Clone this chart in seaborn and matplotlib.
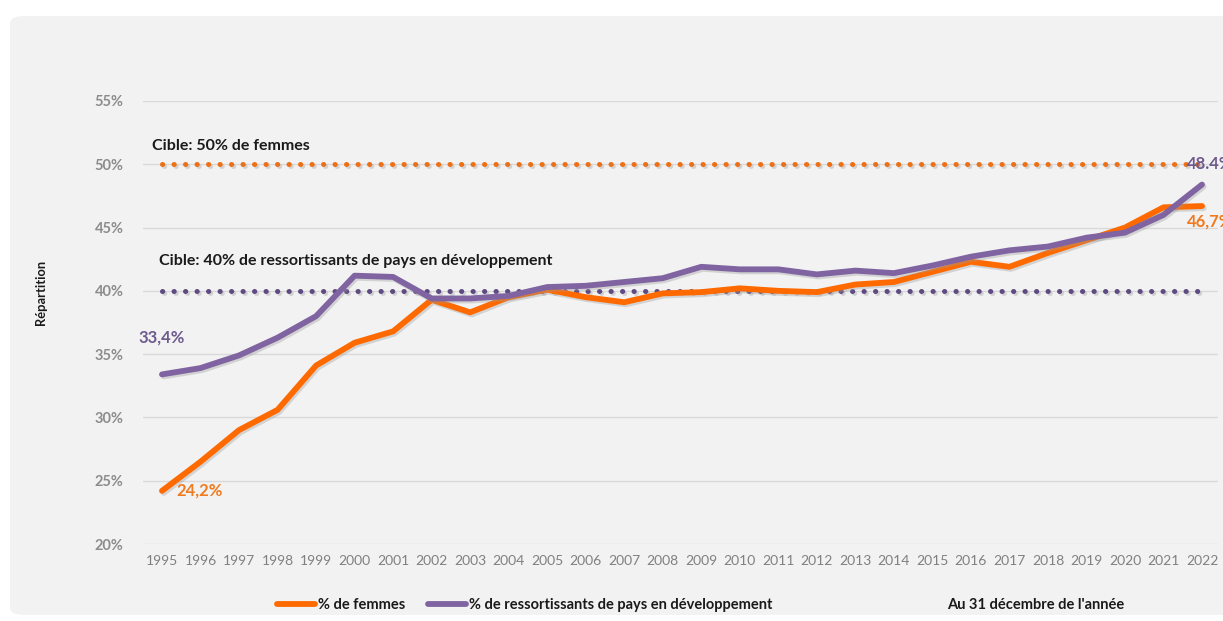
import matplotlib
matplotlib.use("Agg")
import matplotlib.pyplot as plt
import matplotlib.patheffects as pe
from matplotlib.patches import FancyBboxPatch
from matplotlib.lines import Line2D
import seaborn as sns
import pandas as pd

years = list(range(1995, 2023))
femmes = [24.2, 26.5, 29.0, 30.6, 34.1, 35.9, 36.8, 39.3, 38.3, 39.5, 40.1, 39.5, 39.1, 39.8,
          39.9, 40.2, 40.0, 39.9, 40.5, 40.7, 41.5, 42.3, 41.9, 43.0, 44.0, 45.0, 46.6, 46.7]
pays = [33.4, 33.9, 34.9, 36.3, 38.0, 41.2, 41.1, 39.4, 39.4, 39.6, 40.3, 40.4, 40.7, 41.0,
        41.9, 41.7, 41.7, 41.3, 41.6, 41.4, 42.0, 42.7, 43.2, 43.5, 44.2, 44.6, 46.0, 48.4]
series_names = ["% de femmes", "% de ressortissants de pays en développement"]
target_femmes = 50
target_pays = 40
yticks = [20, 25, 30, 35, 40, 45, 50, 55]

ORANGE = "#FF6A00"
PURPLE = "#8064A2"
ORANGE_DOT = "#ED7016"
PURPLE_DOT = "#5F4A82"

df = pd.DataFrame({
    "year": years * 2,
    "value": femmes + pays,
    "series": [series_names[0]] * len(years) + [series_names[1]] * len(years),
})

sns.set_theme(style="white")
plt.rcParams["font.family"] = ["Lato", "DejaVu Sans"]

W, H = 1223, 621
fig = plt.figure(figsize=(W / 100, H / 100), dpi=100)
fig.patch.set_facecolor("white")
bg = FancyBboxPatch((10 / W, 6 / H), (W + 20) / W, (H - 16) / H - 6 / H,
                    boxstyle="round,pad=0,rounding_size=0.012", transform=fig.transFigure,
                    facecolor="#F2F2F2", edgecolor="none", zorder=-10)
fig.patches.append(bg)

ax = fig.add_axes([143 / W, 1 - 544 / H, (1218 - 143) / W, (544 - 101) / H])
ax.set_facecolor("none")

shadow = [pe.SimpleLineShadow(offset=(1.2, -1.5), shadow_color="#999999", alpha=0.35), pe.Normal()]

# target lines
ax.plot([years[0], years[-1]], [target_femmes] * 2, color=ORANGE_DOT, lw=3.6,
        linestyle=(0, (0.05, 2.25)), dash_capstyle="round", path_effects=shadow, zorder=3)
ax.plot([years[0], years[-1]], [target_pays] * 2, color=PURPLE_DOT, lw=3.6,
        linestyle=(0, (0.05, 2.25)), dash_capstyle="round", path_effects=shadow, zorder=3)

sns.lineplot(data=df, x="year", y="value", hue="series", palette=[ORANGE, PURPLE],
             linewidth=4.2, ax=ax, legend=False, zorder=4)
for ln in ax.get_lines()[2:]:
    ln.set_solid_capstyle("round")
    ln.set_path_effects(shadow)

ax.set_xlim(1994.507, 2022.415)
ax.set_ylim(20, 55)
ax.set_yticks(yticks)
ax.set_yticklabels([f"{v}%" for v in yticks], color="#8C8C8C", fontweight="bold", fontsize=10.5)
ax.set_xticks(years)
ax.set_xticklabels([str(y) for y in years], color="#808080", fontsize=10)
ax.tick_params(axis="both", length=0)
ax.tick_params(axis="x", pad=8)
ax.tick_params(axis="y", pad=14)
ax.grid(axis="y", color="#D9D9D9", linewidth=1.0)
ax.set_axisbelow(True)
for s in ax.spines.values():
    s.set_visible(False)
ax.set_xlabel("")
ax.set_ylabel("")

# annotations
ax.text(1994.75, 50.9, "Cible: 50% de femmes", fontsize=11.5, fontweight="bold", color="#1A1A1A", va="bottom")
ax.text(1994.91, 41.8, "Cible: 40% de ressortissants de pays en développement", fontsize=11.5,
        fontweight="bold", color="#1A1A1A", va="bottom")
ax.text(1995.38, femmes[0], "24,2%", fontsize=12, fontweight="bold", color="#F07A1E", va="center")
ax.text(1994.4, pays[0] + 2.9, "33,4%", fontsize=12, fontweight="bold", color="#6E5A8E", va="center")
ax.text(2021.6, 50.0, "48.4%", fontsize=12, fontweight="bold", color="#6E5A8E", va="center", clip_on=False)
ax.text(2021.6, 45.5, "46,7%", fontsize=12, fontweight="bold", color="#F07A1E", va="center", clip_on=False)

fig.text(41 / W, 1 - 292 / H, "Répartition", rotation=90, fontsize=9.3, fontweight="bold",
         color="#1A1A1A", ha="center", va="center")

handles = [Line2D([], [], color=ORANGE, lw=4.2, solid_capstyle="round"),
           Line2D([], [], color=PURPLE, lw=4.2, solid_capstyle="round")]
leg = fig.legend(handles, series_names, loc="center left", ncol=2, frameon=False,
                 bbox_to_anchor=(277 / W, 1 - 605 / H), borderpad=0, borderaxespad=0,
                 handlelength=2.6, handletextpad=0.2, columnspacing=1.6,
                 prop={"weight": "bold", "size": 10.5})
for t in leg.get_texts():
    t.set_color("#1A1A1A")
fig.text(1036 / W, 1 - 605 / H, "Au 31 décembre de l'année", fontsize=10.5, fontweight="bold",
         color="#1A1A1A", ha="center", va="center")

fig.savefig("out.png", dpi=100, facecolor=fig.get_facecolor())
